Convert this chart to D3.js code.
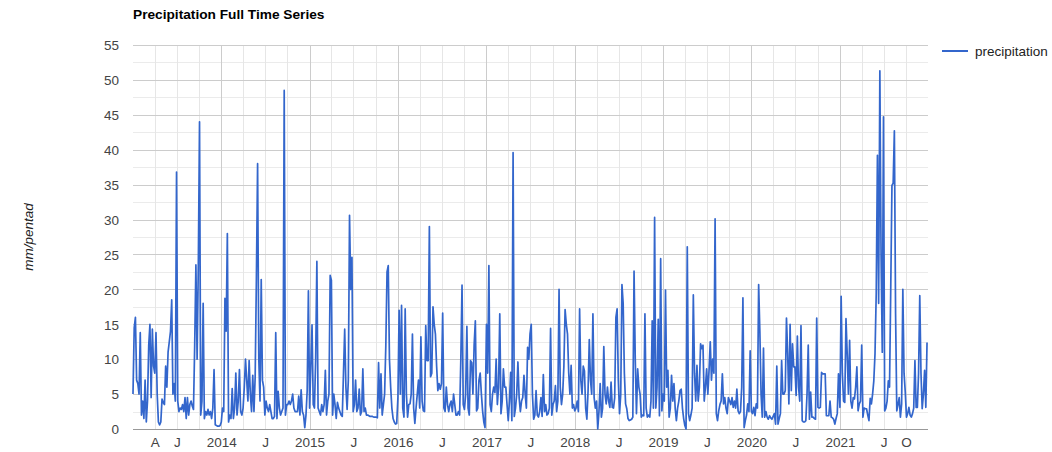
<!DOCTYPE html>
<html>
<head>
<meta charset="utf-8">
<script src="https://cdn.jsdelivr.net/npm/d3@7"></script>
<style>
  body { margin: 0; background: #fff; }
  text { font-family: Arial, "Liberation Sans", sans-serif; }
</style>
</head>
<body>
<svg id="chart"></svg>
<script>
// pentad precipitation (mm/pentad), 73 pentads per year
const p2013 = [5, 14.5, 16, 7, 6.5, 5, 13.8, 2, 4, 1.5, 7, 1, 4, 12, 15, 4.5, 14.3, 9, 8, 13.8, 5, 1, 0.6, 1, 4.3, 3.8, 3.5, 9, 6, 11, 12.5, 14, 18.5, 5, 6.5, 4, 36.8, 4, 2.5, 3, 2.8, 3.5, 2.5, 4.5, 1.5, 4.5, 2, 3.5, 4, 3.3, 2.8, 12, 23.5, 10, 23.5, 44, 2, 4, 18, 1.5, 2.5, 2, 2.8, 2, 2.5, 1.5, 3, 8.5, 0.6, 0.5, 0.4, 0.4, 0.5]
const p2014 = [1, 3, 2.5, 18.7, 14, 28, 1, 2, 1.5, 5.8, 1.5, 3, 8, 2, 4, 8.5, 2.5, 2, 3, 6, 10, 7, 4, 9.8, 5, 2.5, 7.7, 2.5, 7.5, 21.5, 38, 10, 4, 21.4, 7, 6, 2, 4, 3, 2.5, 3.5, 2.5, 1.5, 1.5, 1.8, 13.8, 1.5, 5.4, 3, 2, 2.5, 3, 48.5, 2, 3.5, 3.5, 4, 3.5, 4, 5, 3, 2.5, 2.5, 2.5, 4.7, 2, 5.6, 2.5, 2, 0.2, 2, 5.5, 19.8]
const p2015 = [3, 9, 14.9, 3.5, 3, 10, 24, 3, 2.5, 2, 3.5, 2.5, 3.5, 8.4, 2, 4, 5, 22, 21.3, 2, 5, 3.5, 1.5, 3.8, 3, 2.5, 2, 1.8, 8, 14.3, 6, 2.8, 7, 30.6, 20, 24.6, 2.5, 3.5, 7, 2.5, 3, 5.7, 2, 2.5, 8.6, 2.5, 3, 2, 2, 1.9, 1.8, 1.8, 1.8, 1.7, 1.7, 1.7, 1.6, 9.5, 3, 7.9, 2, 3.5, 5, 12, 22.5, 23.4, 10, 6, 3, 1.5, 1, 0.7, 0.8]
const p2016 = [4.5, 17, 5, 17.7, 3, 1.7, 17.2, 5, 1.7, 3.5, 3.6, 5, 13.6, 3, 0.8, 3, 5, 7, 3, 13.2, 4, 2.6, 2.5, 14.8, 9.8, 9.8, 29, 7.5, 8, 17.5, 15, 13.6, 9, 5.5, 6.5, 5.7, 6.5, 16.6, 3, 2.5, 6, 3.5, 2.5, 3.5, 4, 2.5, 5, 3.5, 2, 2, 2.5, 2, 10, 20.6, 3.5, 2.8, 5, 14.7, 3, 2, 9.8, 9.5, 5, 12, 15.5, 2.6, 3, 7, 8, 5, 2.6, 1, 0.2]
const p2017 = [15, 8, 23.4, 3.5, 2.5, 5, 6, 5.2, 10, 3.5, 6, 16.5, 2.2, 4, 8.6, 6, 6, 3.5, 1.2, 4, 8.1, 1.2, 39.6, 1.8, 3, 5, 9.6, 4.5, 2.5, 4, 4.5, 7.7, 5, 3, 11.7, 10, 13.6, 15, 5, 1.4, 2, 5.5, 2, 1.7, 2.5, 4.5, 1.8, 7.8, 2.5, 3.5, 2, 2.2, 3, 14.4, 2, 3.5, 4, 6.2, 2.5, 4, 20, 6, 3.5, 5, 9, 17.1, 15, 13.6, 8, 5, 9.1, 3, 3.5]
const p2018 = [2.6, 3, 4, 2.5, 17.2, 7, 5, 9, 8.3, 3, 1.4, 5.5, 12.8, 7, 5, 16.5, 4.5, 3, 4, 0, 2.5, 6.5, 1.7, 3, 11.8, 5, 3.6, 6, 4, 3.1, 6.7, 3.1, 3, 4.5, 16, 17.2, 7, 2.2, 5, 20.7, 18, 8, 3.6, 2.9, 1.5, 1.2, 1.3, 1.4, 1.7, 22.6, 10, 2.2, 8.6, 6, 5, 1.7, 2, 1.9, 16.5, 3, 1.7, 2, 1.7, 4, 15.5, 3, 30.3, 3, 6, 15.7, 1.9, 24.4, 2.6]
const p2019 = [5, 4, 19.9, 6, 8.4, 1.7, 3, 7.7, 4, 6.5, 3, 1.2, 3, 4, 5.5, 5.7, 3, 1.5, 0.5, 0, 26.1, 2.2, 1.2, 2, 3, 19.2, 8, 4, 9.1, 4, 6, 12.2, 11.5, 12, 4, 6, 8.6, 5, 8.4, 12.5, 7, 10, 8, 30.1, 2.2, 1.2, 2.6, 3.5, 4, 7.9, 3.6, 4.5, 3, 2.2, 4.5, 4, 3.5, 4.5, 3.1, 4, 3, 5.7, 2.6, 2.2, 2.5, 6, 18.8, 0.2, 1.2, 2, 3.6, 2.5, 11.2]
const p2020 = [2.5, 2.2, 3.1, 1.9, 3.6, 3, 20.7, 14, 5, 1.7, 11.6, 1.7, 2.5, 1.7, 1.4, 1.9, 1.6, 1.4, 1.8, 2.2, 0.7, 9, 0.7, 1.5, 2.2, 9.8, 5, 5, 5.5, 15.9, 10.8, 3.6, 15, 5.5, 12.2, 8.9, 8.9, 4.8, 13.3, 6, 4, 14.8, 1.2, 1, 1, 1.2, 5, 12, 1.4, 5.3, 1.7, 1.7, 1.5, 1.4, 15.9, 3.1, 3, 3.1, 8.1, 7.9, 7.9, 7.9, 1.9, 1.9, 1.9, 4, 1.7, 1.6, 1.4, 0.7, 1.5, 2.2, 7.9]
const p2021 = [3.1, 19, 8, 4, 3.8, 15.8, 10.8, 5, 12.7, 4, 3, 4.5, 4.3, 6, 8.9, 2.6, 3.6, 4, 12, 1.7, 3, 2.9, 2.9, 2, 1.2, 4.4, 3.6, 5, 6.9, 10.8, 19.4, 39.2, 18, 51.3, 25, 11, 44.7, 2.6, 3, 4, 6.9, 6, 20, 34.9, 35.2, 42.7, 16.5, 2.6, 3.5, 4.5, 1.7, 3.6, 20, 8, 5.3, 1.7, 2.2, 3.1, 2, 1.7, 2.2, 3, 9.8, 3.1, 3.1, 8, 19.1, 8, 2.9, 5, 8.4, 3.1, 12.4]

const years = [2013, 2014, 2015, 2016, 2017, 2018, 2019, 2020, 2021]
const yearSeries = [p2013, p2014, p2015, p2016, p2017, p2018, p2019, p2020, p2021]

const yTicks = [0, 5, 10, 15, 20, 25, 30, 35, 40, 45, 50, 55]
const xTickDates = ['2013-04-01', '2013-07-01', '2014-01-01', '2014-07-01', '2015-01-01', '2015-07-01', '2016-01-01', '2016-07-01', '2017-01-01', '2017-07-01', '2018-01-01', '2018-07-01', '2019-01-01', '2019-07-01', '2020-01-01', '2020-07-01', '2021-01-01', '2021-07-01', '2021-10-01']
const xTickLabels = ['A', 'J', '2014', 'J', '2015', 'J', '2016', 'J', '2017', 'J', '2018', 'J', '2019', 'J', '2020', 'J', '2021', 'J', 'O']

const seriesName = 'precipitation'
const chartTitle = 'Precipitation Full Time Series'
const yTitle = 'mm/pentad'

const parseDate = d3.timeParse('%Y-%m-%d')

// build the table
const data = []
years.forEach((yr, i) => {
    yearSeries[i].forEach((v, k) => {
        data.push({date: d3.timeDay.offset(new Date(yr, 0, 1), 5 * k), value: v})
    })
})

const config = {
    width: 1052,
    height: 452,
    margin: {top: 45, right: 124, bottom: 23, left: 133}
}
const innerW = config.width - config.margin.left - config.margin.right
const innerH = config.height - config.margin.top - config.margin.bottom

const svg = d3.select('#chart')
    .attr('width', config.width)
    .attr('height', config.height)

const g = svg.append('g')
    .attr('transform', `translate(${config.margin.left}, ${config.margin.top})`)

const xScale = d3.scaleTime()
    .domain([new Date(2013, 0, 1), new Date(2021, 11, 31)])
    .range([0, innerW])

const yScale = d3.scaleLinear()
    .domain([0, 55])
    .range([innerH, 0])

// horizontal gridlines (minor every 2.5, major every 5)
const minorY = d3.range(2.5, 55, 5)
g.append('g').selectAll('line.minor-y')
    .data(minorY)
    .join('line')
    .attr('x1', 0).attr('x2', innerW)
    .attr('y1', d => Math.round(yScale(d)) + 0.5)
    .attr('y2', d => Math.round(yScale(d)) + 0.5)
    .attr('stroke', '#ebebeb')

// vertical gridlines, quarterly, years darker
const quarters = d3.timeMonth.every(3).range(new Date(2013, 3, 1), new Date(2021, 11, 2))
g.append('g').selectAll('line.vx')
    .data(quarters)
    .join('line')
    .attr('x1', d => Math.round(xScale(d)) + 0.5)
    .attr('x2', d => Math.round(xScale(d)) + 0.5)
    .attr('y1', 0).attr('y2', innerH)
    .attr('stroke', d => d.getMonth() === 0 ? '#cccccc' : '#e6e6e6')

g.append('g').selectAll('line.major-y')
    .data(yTicks.filter(d => d > 0))
    .join('line')
    .attr('x1', 0).attr('x2', innerW)
    .attr('y1', d => Math.round(yScale(d)) + 0.5)
    .attr('y2', d => Math.round(yScale(d)) + 0.5)
    .attr('stroke', '#cccccc')

// y axis
const yAxis = d3.axisLeft(yScale).tickValues(yTicks).tickSize(0).tickPadding(14)
const yAxisG = g.append('g').call(yAxis)
yAxisG.select('.domain').remove()
yAxisG.selectAll('text')
    .attr('fill', '#444')
    .style('font-size', '13.5px')
    .attr('dy', '0.35em')

// x axis
const xAxis = d3.axisBottom(xScale)
    .tickValues(xTickDates.map(parseDate))
    .tickFormat((d, i) => xTickLabels[i])
    .tickSize(0)
    .tickPadding(8)
const xAxisG = g.append('g')
    .attr('transform', `translate(0, ${innerH})`)
    .call(xAxis)
xAxisG.select('.domain').remove()
xAxisG.selectAll('text')
    .attr('fill', '#444')
    .style('font-size', '13.5px')

// baseline
g.append('line')
    .attr('x1', 0).attr('x2', innerW)
    .attr('y1', Math.round(yScale(0)) + 0.5)
    .attr('y2', Math.round(yScale(0)) + 0.5)
    .attr('stroke', '#999')

// the series
const line = d3.line()
    .x(d => xScale(d.date))
    .y(d => yScale(d.value))

g.append('path')
    .datum(data)
    .attr('fill', 'none')
    .attr('stroke', '#3366cc')
    .attr('stroke-width', 1.7)
    .attr('stroke-linejoin', 'round')
    .attr('d', line)

// title
svg.append('text')
    .text(chartTitle)
    .attr('x', 133)
    .attr('y', 19)
    .style('font-size', '13.7px')
    .style('font-weight', 'bold')
    .attr('fill', '#000')

// y axis title
svg.append('text')
    .text(yTitle)
    .attr('transform', `translate(33, ${config.margin.top + innerH / 2}) rotate(-90)`)
    .style('text-anchor', 'middle')
    .style('font-size', '13.5px')
    .style('font-style', 'italic')
    .attr('fill', '#222')

// legend
const legend = svg.append('g').attr('transform', 'translate(942, 51)')
legend.append('line')
    .attr('x1', 0).attr('x2', 26)
    .attr('y1', 0).attr('y2', 0)
    .attr('stroke', '#3366cc')
    .attr('stroke-width', 2)
legend.append('text')
    .text(seriesName)
    .attr('x', 33)
    .attr('y', 4.5)
    .style('font-size', '13.5px')
    .attr('fill', '#222')
</script>
</body>
</html>
